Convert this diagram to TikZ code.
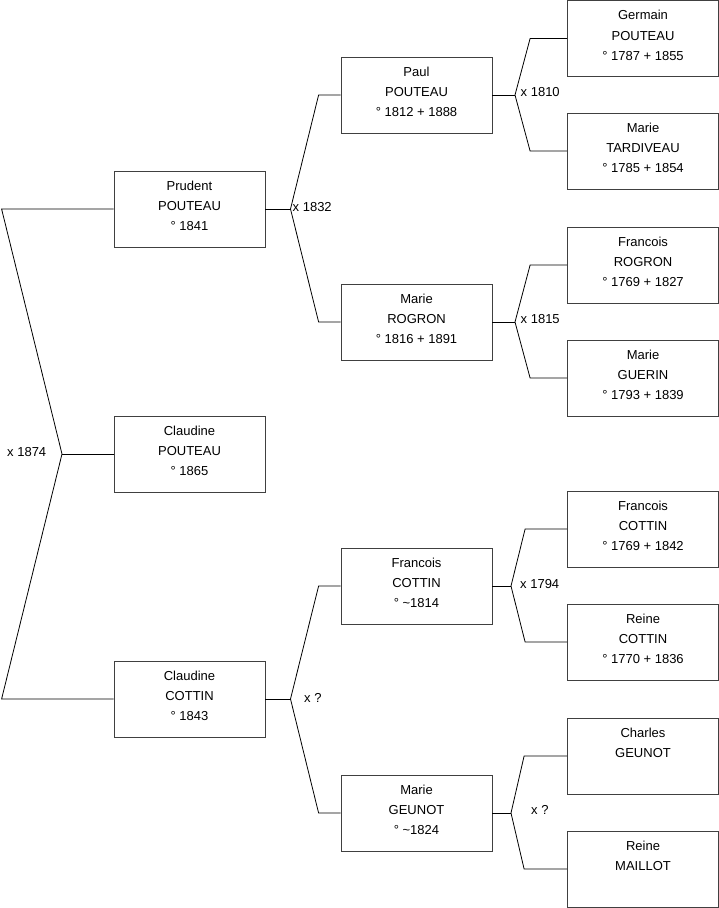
\documentclass[tikz,border=0pt]{standalone}
\usepackage{fontspec}
\setmainfont{Liberation Sans}
\usepackage{tikz}

\tikzset{
  person/.style={draw=black!75, line width=0.8pt, minimum width=151pt, minimum height=76pt,
    inner sep=0pt, align=center, font=\fontsize{13}{20.2}\selectfont,
    execute at begin node=\rule{0pt}{20pt}, execute at end node=\strut},
  link/.style={black, line width=0.8pt},
  wed/.style={anchor=base west, inner sep=0pt, font=\fontsize{13}{15}\selectfont}
}

\begin{document}
\begin{tikzpicture}[x=1pt,y=-1pt]
			\useasboundingbox (0,0) rectangle (719,908);
			% generation 1
			\node[person] (claudine-p) at (189.5,454) {Claudine\\POUTEAU\\° 1865};
			% generation 2
			\node[person] (prudent) at (189.5,209) {Prudent\\POUTEAU\\° 1841};
			\node[person] (claudine-c) at (189.5,699) {Claudine\\COTTIN\\° 1843};
			% generation 3
			\node[person] (paul) at (416.5,95) {Paul\\POUTEAU\\° 1812 + 1888};
			\node[person] (marie-r) at (416.5,322) {Marie\\ROGRON\\° 1816 + 1891};
			\node[person] (francois-c) at (416.5,586) {Francois\\COTTIN\\° \textasciitilde1814};
			\node[person] (marie-g) at (416.5,813) {Marie\\GEUNOT\\° \textasciitilde1824};
			% generation 4
			\node[person] (germain) at (643,38.5) {Germain\\POUTEAU\\° 1787 + 1855};
			\node[person] (marie-t) at (643,151) {Marie\\TARDIVEAU\\° 1785 + 1854};
			\node[person] (francois-r) at (643,265) {Francois\\ROGRON\\° 1769 + 1827};
			\node[person] (marie-gu) at (643,378) {Marie\\GUERIN\\° 1793 + 1839};
			\node[person] (francois-cc) at (643,529) {Francois\\COTTIN\\° 1769 + 1842};
			\node[person] (reine-c) at (643,642) {Reine\\COTTIN\\° 1770 + 1836};
			\node[person] (charles) at (643,756) {Charles\\GEUNOT\\};
			\node[person] (reine-m) at (643,869) {Reine\\MAILLOT\\};
			% marriage forks
			\coordinate (v1874) at (62,454);
			\coordinate (v1832) at (290.5,209);
			\coordinate (vcottin) at (290.5,699);
			\coordinate (v1810) at (515,95);
			\coordinate (v1815) at (515,322);
			\coordinate (v1794) at (511,586);
			\coordinate (vgeunot) at (511,813);
			\draw[link] (claudine-p.west) -- (v1874);
			\draw[link] (prudent.west) -- ++(-112,0) -- (v1874);
			\draw[link] (claudine-c.west) -- ++(-112,0) -- (v1874);
			\draw[link] (prudent.east) -- (v1832);
			\draw[link] (paul.west) -- ++(-22,0) -- (v1832);
			\draw[link] (marie-r.west) -- ++(-22,0) -- (v1832);
			\draw[link] (claudine-c.east) -- (vcottin);
			\draw[link] (francois-c.west) -- ++(-22,0) -- (vcottin);
			\draw[link] (marie-g.west) -- ++(-22,0) -- (vcottin);
			\draw[link] (paul.east) -- (v1810);
			\draw[link] (germain.west) -- ++(-37,0) -- (v1810);
			\draw[link] (marie-t.west) -- ++(-37,0) -- (v1810);
			\draw[link] (marie-r.east) -- (v1815);
			\draw[link] (francois-r.west) -- ++(-37,0) -- (v1815);
			\draw[link] (marie-gu.west) -- ++(-37,0) -- (v1815);
			\draw[link] (francois-c.east) -- (v1794);
			\draw[link] (francois-cc.west) -- ++(-42,0) -- (v1794);
			\draw[link] (reine-c.west) -- ++(-42,0) -- (v1794);
			\draw[link] (marie-g.east) -- (vgeunot);
			\draw[link] (charles.west) -- ++(-43,0) -- (vgeunot);
			\draw[link] (reine-m.west) -- ++(-43,0) -- (vgeunot);
			% marriage labels
			\node[wed] (l1874) at (7,456) {x 1874};
			\node[wed] (l1832) at (292.5,211) {x 1832};
			\node[wed] (lcottin) at (304,702) {x ?};
			\node[wed] (l1810) at (520.5,96.5) {x 1810};
			\node[wed] (l1815) at (520.5,323.5) {x 1815};
			\node[wed] (l1794) at (520,588.5) {x 1794};
			\node[wed] (lgeunot) at (531,814) {x ?};
		\end{tikzpicture}
\end{document}
